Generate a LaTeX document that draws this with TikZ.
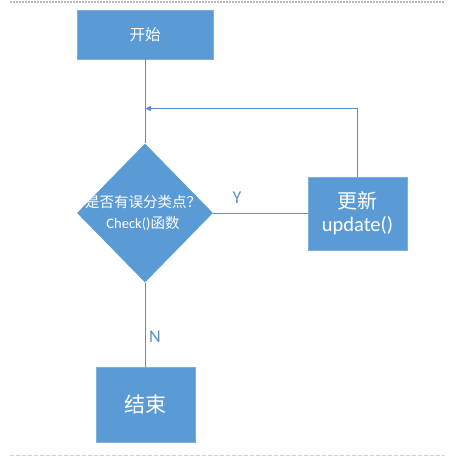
\documentclass[tikz,border=0pt]{standalone}
\usepackage{fontspec}
\setmainfont{Carlito}
\newfontfamily\cjk{Noto Sans CJK SC}
\usetikzlibrary{shapes.geometric,arrows.meta}
\definecolor{flowblue}{HTML}{5B9BD5}
\definecolor{flowline}{HTML}{5A8FCB}
\def\fsize#1{\fontsize{#1bp}{#1bp}\selectfont}
\tikzset{
  stepbox/.style = {rectangle, fill=flowblue, draw=flowblue!80!white,
    text=white, inner sep=0pt, align=center},
  decision/.style = {diamond, fill=flowblue, inner sep=0pt,
    minimum width=136bp, minimum height=139bp},
  flow/.style = {draw=flowline, line width=0.8bp},
  branch/.style = {text=flowline, inner sep=0pt},
  pagerule/.style = {draw=gray!55, dash pattern=on 2bp off 1bp}
}

\begin{document}
\begin{tikzpicture}[x=1bp, y=-1bp]
  \useasboundingbox (0,0) rectangle (468,462);

  % page edges
  \draw [pagerule, line width=1.6bp] (10,2) -- (445,2);
  \draw [pagerule, draw=gray!35, dash pattern=on 4bp off 2bp, line width=0.6bp] (10,455) -- (445,455);

  \node [stepbox, minimum width=136bp, minimum height=49bp] (start) at (145,34.5)
    {\cjk\fsize{15.5}开始};
  \node [decision] (check) at (145,213) {};
  \node [text=white, align=center, inner sep=0pt] (checktext) at (143,213)
    {\cjk\fsize{14.5}是否有误分类点？\\[7bp]\fsize{14.5}Check()\cjk 函数};
  \node [stepbox, minimum width=99bp, minimum height=73bp] (update) at (357.5,213.5)
    {{\cjk\fsize{20}更新}\\[5bp]\fsize{20.5}update()};
  \node [stepbox, minimum width=99bp, minimum height=75bp] (finish) at (145.5,405)
    {\cjk\fsize{21}结束};
  \coordinate (merge) at (145,108.5);

  \node [branch] (ylabel) at (237,198) {\fsize{18}Y};
  \node [branch] (nlabel) at (155,337) {\fsize{18}N};

  \draw [flow] (start) -- (check);
  \draw [flow] (check.east) -- (check.east -| update.west);
  \draw [flow, -{Triangle[length=6bp, width=5bp]}] (update.north) |- (merge);
  \draw [flow] (check.south) -- (check.south |- finish.north);

\end{tikzpicture}
\end{document}
